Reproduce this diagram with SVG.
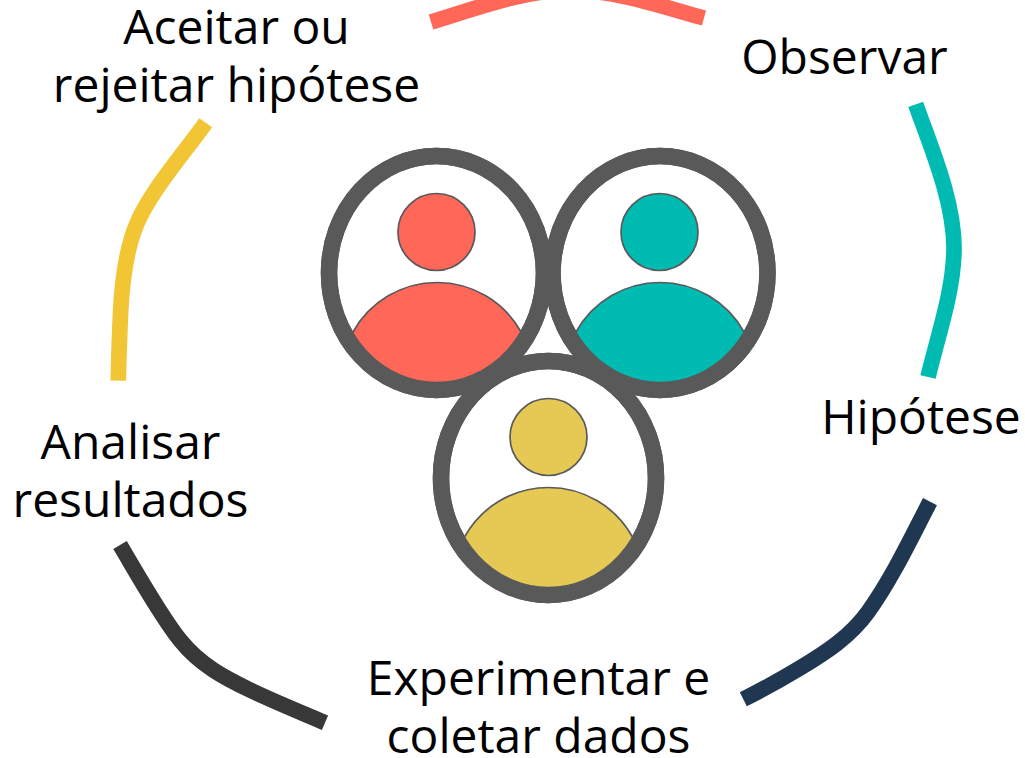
<svg xmlns="http://www.w3.org/2000/svg" width="1025" height="758" viewBox="0 0 1025 758">
<style>
.ring{fill:#fff;stroke:#595959;stroke-width:16.5}
.line{fill:none;stroke:#595959;stroke-width:16.5}
.head,.body{stroke:#595959;stroke-width:1.7}
.c{fill:none;stroke-width:15.7}
.t{font-family:"Open Sans",sans-serif;font-size:48px;fill:#000;text-anchor:middle}
</style>
<rect width="1025" height="758" fill="#fff"/>
<g id="connectors">
<path class="c" stroke="#ff6859" d="M431,22C480,7 525,-10 570,-10C615,-10 660,6 704,18"/>
<path class="c" stroke="#00bbb1" d="M915.700,104.300C930,145 954,200 954,248C954,290 938,335 928,377"/>
<path class="c" stroke="#203752" d="M930,501.700C912,536 893,577 868,612C850,637 825,653 800,668C780,680 762,690 743.300,699.300"/>
<path class="c" stroke="#383838" d="M120,545C135,570 160,615 180,640C200,665 225,678 250,690C275,702 300,712 325,722.700"/>
<path class="c" stroke="#f1c534" d="M205.700,122.700C185,152 150,192 136.700,224C125,252 122,285 120.700,310C119.500,335 118.800,358 118.300,380.700"/>
</g>
<g id="person-left">
<ellipse cx="436.500" cy="273" rx="107.500" ry="117" class="ring"/>
<circle cx="436.500" cy="232" r="38.500" class="head" fill="#ff6859"/>
<path class="body" fill="#ff6859" d="M353,332A96,96 0 0 1 521,332L521.600,345A108,117 0 0 1 351.400,345Z"/>
<ellipse cx="436.500" cy="273" rx="107.500" ry="117" class="line"/>
</g>
<g id="person-right">
<ellipse cx="660" cy="273" rx="107.500" ry="117" class="ring"/>
<circle cx="659.500" cy="232" r="38.500" class="head" fill="#00bbb1"/>
<path class="body" fill="#00bbb1" d="M576,332A96,96 0 0 1 744,332L745.100,345A108,117 0 0 1 574.900,345Z"/>
<ellipse cx="660" cy="273" rx="107.500" ry="117" class="line"/>
</g>
<g id="person-bottom">
<ellipse cx="548.500" cy="478" rx="107.500" ry="117" class="ring"/>
<circle cx="548.500" cy="437" r="38.500" class="head" fill="#e6c955"/>
<path class="body" fill="#e6c955" d="M464.500,537A96,96 0 0 1 632.500,537L633.600,550A108,117 0 0 1 463.400,550Z"/>
<ellipse cx="548.500" cy="478" rx="107.500" ry="117" class="line"/>
</g>
<g id="label-observar"><text class="t" x="844.500" y="73.500">Observar</text></g>
<g id="label-hipotese"><text class="t" x="921" y="433.500">Hipótese</text></g>
<g id="label-experimentar"><text class="t" x="538.500" y="694.500">Experimentar e</text><text class="t" x="538.500" y="752.500">coletar dados</text></g>
<g id="label-analisar"><text class="t" x="130.500" y="458.500">Analisar</text><text class="t" x="130.500" y="516.500">resultados</text></g>
<g id="label-aceitar"><text class="t" x="236.500" y="43.500">Aceitar ou</text><text class="t" x="236.500" y="101.500">rejeitar hipótese</text></g>
</svg>
